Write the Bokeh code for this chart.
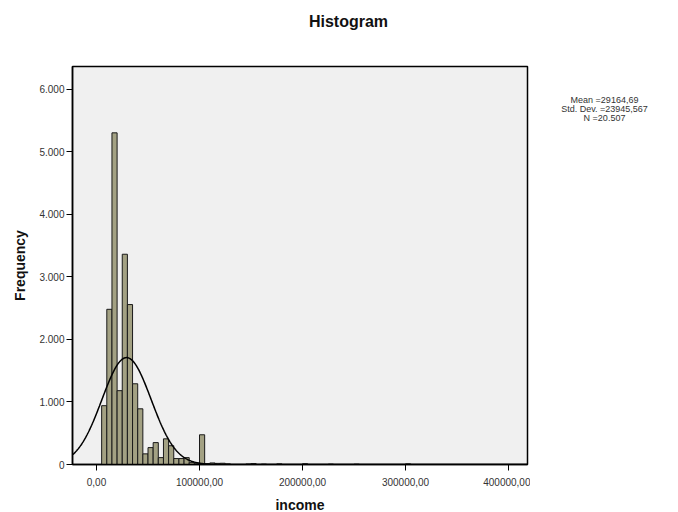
import numpy as np
from bokeh.plotting import figure
from bokeh.layouts import row, column
from bokeh.models import ColumnDataSource, FixedTicker, Range1d
from bokeh.core.properties import value
from bokeh.embed import file_html
from bokeh.resources import INLINE

# Histogram of income: bin start values (width 5000) and frequencies
bin_width = 5000
bin_start = [5000, 10000, 15000, 20000, 25000, 30000, 35000, 40000, 45000, 50000,
             55000, 60000, 65000, 70000, 75000, 80000, 85000, 90000, 95000, 100000,
             105000, 110000, 115000, 120000, 125000, 145000, 150000, 160000, 175000,
             200000, 225000, 250000, 300000]
frequency = [940, 2480, 5300, 1180, 3360, 2556, 1290, 890, 170, 270,
             350, 110, 410, 300, 95, 95, 110, 30, 20, 475,
             12, 25, 18, 20, 10, 8, 15, 6, 10,
             12, 6, 5, 10]

# Summary statistics
mean_income = 29164.69
std_income = 23945.567
n_cases = 20507
stats_lines = ["Mean =29164,69", "Std. Dev. =23945,567", "N =20.507"]
chart_title = "Histogram"

x_ticks = [0, 100000, 200000, 300000, 400000]
x_tick_labels = ["0,00", "100000,00", "200000,00", "300000,00", "400000,00"]
y_ticks = [0, 1000, 2000, 3000, 4000, 5000, 6000]
y_tick_labels = ["0", "1.000", "2.000", "3.000", "4.000", "5.000", "6.000"]

FONT = "Liberation Sans"
TOP_H = 63


def text_panel(w, h):
    """A blank panel whose data coordinates are its own pixels (y down)."""
    f = figure(frame_width=w, frame_height=h, output_backend="svg",
               toolbar_location=None, x_range=Range1d(0, w), y_range=Range1d(h, 0),
               x_axis_location=None, y_axis_location=None, min_border=0)
    f.outline_line_color = None
    f.background_fill_color = "white"
    f.border_fill_color = "white"
    f.xgrid.visible = False
    f.ygrid.visible = False
    return f


# Title strip
top = text_panel(678, TOP_H)
top.text(x=[348], y=[21], text=[chart_title], text_align="center",
         text_baseline="middle", text_font=value(FONT), text_font_size="16px",
         text_font_style="bold", text_color="#111111")

# Main histogram panel
p = figure(frame_width=455, frame_height=398, output_backend="svg",
           toolbar_location=None,
           x_range=Range1d(-23300, 418400), y_range=Range1d(0, 6360),
           min_border_left=72, min_border_right=3, min_border_top=3,
           min_border_bottom=48)

p.background_fill_color = "#F0F0F0"
p.border_fill_color = "white"
p.outline_line_color = "black"
p.outline_line_width = 1.5
p.xgrid.visible = False
p.ygrid.visible = False

# Bars
edges = np.array(bin_start, dtype=float)
src = ColumnDataSource(dict(left=edges, right=edges + bin_width, top=frequency))
p.quad(left="left", right="right", bottom=0, top="top", source=src,
       fill_color="#A3A183", line_color="#1a1a1a", line_width=1)

# Normal curve scaled to the histogram
xs = np.linspace(-23000, 418000, 900)
pdf = np.exp(-0.5 * ((xs - mean_income) / std_income) ** 2) / (std_income * np.sqrt(2 * np.pi))
p.line(xs, pdf * n_cases * bin_width, line_color="black", line_width=1.5)

# Axes
for ax in (p.xaxis[0], p.yaxis[0]):
    ax.axis_line_color = "black"
    ax.axis_line_width = 1.5
    ax.major_tick_line_color = "black"
    ax.major_tick_line_width = 1
    ax.major_tick_in = 0
    ax.major_tick_out = 6
    ax.minor_tick_line_color = None
    ax.major_label_text_font = FONT
    ax.major_label_text_font_size = "10px"
    ax.major_label_text_color = "#333333"
    ax.axis_label_text_font = FONT
    ax.axis_label_text_font_size = "14px"
    ax.axis_label_text_font_style = "bold"
    ax.axis_label_text_color = "#111111"

p.xaxis.ticker = FixedTicker(ticks=x_ticks)
p.xaxis.major_label_overrides = dict(zip(x_ticks, x_tick_labels))
p.xaxis.axis_label = "income"
p.xaxis.axis_label_standoff = 8
p.xaxis.major_label_standoff = 7

p.yaxis.ticker = FixedTicker(ticks=y_ticks)
p.yaxis.major_label_overrides = dict(zip(y_ticks, y_tick_labels))
p.yaxis.axis_label = "Frequency"
p.yaxis.axis_label_standoff = 8
p.yaxis.major_label_standoff = 2

# Side panel with the summary statistics
side = text_panel(148, 512 - TOP_H)
side.text(x=[74] * len(stats_lines),
          y=[96 - TOP_H + 9 * i for i in range(len(stats_lines))],
          text=stats_lines, text_align="center", text_baseline="middle",
          text_font=value(FONT), text_font_size="9px", text_color="#333333")

layout = column(top, row(p, side, spacing=0), spacing=0)
open("out.html", "w").write(file_html(layout, INLINE))
